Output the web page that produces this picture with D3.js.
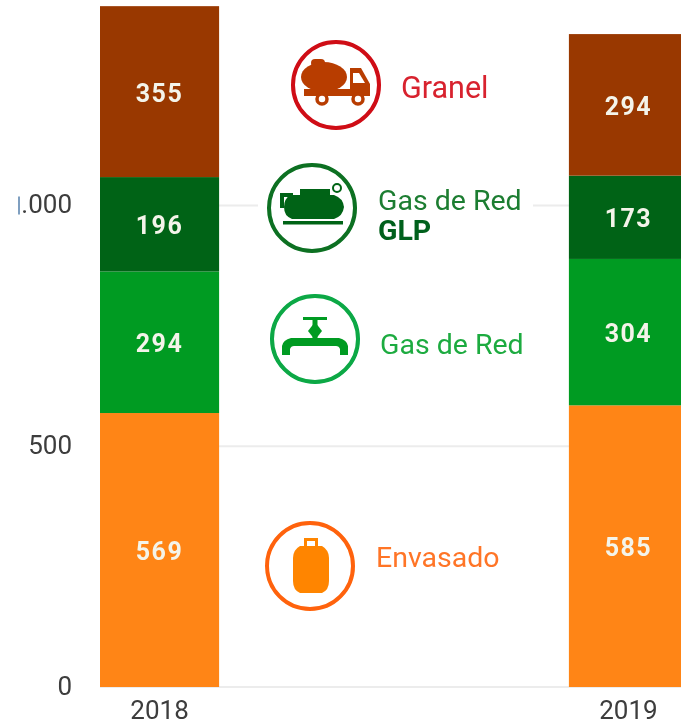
<!DOCTYPE html>
<html>
<head>
<meta charset="utf-8">
<script src="https://cdn.jsdelivr.net/npm/d3@7"></script>
<style>
    html, body { margin: 0; padding: 0; background: #fff; overflow: hidden; }
    text { font-family: "Roboto", sans-serif; }
</style>
</head>
<body>
<div id="chart"></div>
<script>
"use strict";

const years = ["2018", "2019"];
const seriesNames = ["Envasado", "Gas de Red", "Gas de Red GLP", "Granel"];
const envasado = [569, 585];
const gasDeRed = [294, 304];
const gasDeRedGlp = [196, 173];
const granel = [355, 294];
const yTicks = [0, 500, 1000];
const barColors = ["#ff8514", "#059b24", "#006414", "#993800"];

const width = 681;
const height = 727;

const rows = years.map((year, i) => ({
    year,
    "Envasado"      : envasado[i],
    "Gas de Red"    : gasDeRed[i],
    "Gas de Red GLP": gasDeRedGlp[i],
    "Granel"        : granel[i]
}));

const xScale = d3.scaleBand()
                 .domain(years)
                 .range([100, 688])
                 .paddingInner(0.746)
                 .paddingOuter(0);
const yScale = d3.scaleLinear()
                 .domain([0, 1000])
                 .range([687, 205.5]);
const colorScale = d3.scaleOrdinal().domain(seriesNames).range(barColors);
const stacked = d3.stack().keys(seriesNames)(rows);

const svg = d3.select("#chart").append("svg")
              .attr("width", width)
              .attr("height", height);

const defs = svg.append("defs");
defs.append("filter").attr("id", "soft")
    .attr("x", "-5%").attr("y", "-5%").attr("width", "110%").attr("height", "110%")
    .append("feGaussianBlur").attr("stdDeviation", 0.75);
// the "1" of 1.000 is cut by the left edge of the crop in the original
defs.append("clipPath").attr("id", "tick-clip")
    .append("rect").attr("x", -54).attr("y", 0).attr("width", 60).attr("height", height);

const root = svg.append("g").attr("filter", "url(#soft)");

// gridlines
root.append("g").selectAll("line").data(yTicks).enter()
    .append("line")
    .attr("x1", 100).attr("x2", width)
    .attr("y1", d => yScale(d)).attr("y2", d => yScale(d))
    .attr("stroke", "#ececec")
    .attr("stroke-width", 2);

// bars
const layers = root.append("g").selectAll("g").data(stacked).enter()
                   .append("g")
                   .attr("fill", d => colorScale(d.key));
layers.selectAll("rect").data(d => d).enter()
      .append("rect")
      .attr("x", d => xScale(d.data.year))
      .attr("width", xScale.bandwidth())
      .attr("y", d => yScale(d[1]))
      .attr("height", d => yScale(d[0]) - yScale(d[1]));
layers.selectAll("text").data(d => d).enter()
      .append("text")
      .text(d => d[1] - d[0])
      .attr("x", d => xScale(d.data.year) + xScale.bandwidth() / 2)
      .attr("y", d => (yScale(d[0]) + yScale(d[1])) / 2 + 10)
      .attr("text-anchor", "middle")
      .attr("fill", "#f4f4ea")
      .style("font-size", "25px")
      .style("font-weight", 700)
      .style("letter-spacing", "1.5px");

// axes
const yAxis = d3.axisLeft(yScale)
                .tickValues(yTicks)
                .tickSize(0)
                .tickPadding(0)
                .tickFormat(d => d3.format(",")(d).replace(",", "."));
// the stem of the cut "1" is only a sliver, drawn apart so it sits against the dot
root.append("rect")
    .attr("x", 18).attr("y", yScale(1000) - 9).attr("width", 2).attr("height", 18)
    .attr("fill", "#7f9fc0");
root.append("g")
    .attr("transform", "translate(72, -1)")
    .attr("clip-path", "url(#tick-clip)")
    .call(yAxis)
    .call(g => g.select(".domain").remove())
    .call(g => g.selectAll("text")
                .attr("fill", "#3c3c3c")
                .style("font-family", "Roboto, sans-serif")
                .style("font-size", "26px"));
const xAxis = d3.axisBottom(xScale).tickSize(0).tickPadding(0);
root.append("g")
    .attr("transform", "translate(0, 701)")
    .call(xAxis)
    .call(g => g.select(".domain").remove())
    .call(g => g.selectAll("text")
                .attr("fill", "#3c3c3c")
                .style("font-family", "Roboto, sans-serif")
                .style("font-size", "26px"));

// legend panel hides the gridlines behind it
root.append("rect")
    .attr("x", 258).attr("y", 0).attr("width", 275).attr("height", 250)
    .attr("fill", "#fff");

const legend = root.append("g");
const badge = (cx, cy, color) => legend.append("circle")
    .attr("cx", cx).attr("cy", cy).attr("r", 43)
    .attr("fill", "#fff").attr("stroke", color).attr("stroke-width", 4);
const label = (x, y, text, color, size, weight) => legend.append("text")
    .attr("x", x).attr("y", y).text(text)
    .attr("fill", color)
    .style("font-size", size + "px")
    .style("font-weight", weight || 400);

// Granel, truck
badge(336, 85, "#cf0a14");
const truck = legend.append("g").attr("fill", "#b83c06");
truck.append("ellipse").attr("cx", 324).attr("cy", 77).attr("rx", 23).attr("ry", 15);
truck.append("rect").attr("x", 311).attr("y", 59).attr("width", 14).attr("height", 8).attr("rx", 4);
truck.append("path").attr("d", "M304 89H350V68H361L370 84V96H304Z");
truck.append("path").attr("d", "M353 73H359L365 83H353Z").attr("fill", "#fff");
truck.append("circle").attr("cx", 322).attr("cy", 99).attr("r", 5).attr("fill", "#fff").attr("stroke", "#b83c06").attr("stroke-width", 3.5);
truck.append("circle").attr("cx", 358).attr("cy", 99).attr("r", 5).attr("fill", "#fff").attr("stroke", "#b83c06").attr("stroke-width", 3.5);
label(401, 98, "Granel", "#d8232f", 30.5);

// Gas de Red GLP, tank
badge(312, 208, "#0a7020");
const tank = legend.append("g").attr("fill", "#006414");
tank.append("path").attr("d", "M290 195H334Q343 198 344 207Q343 216 334 219H292Q284 216 284 207Q284 199 290 195Z");
tank.append("rect").attr("x", 300).attr("y", 189).attr("width", 30).attr("height", 7);
tank.append("path").attr("d", "M280 193H293V197H284V208H280Z");
tank.append("rect").attr("x", 283).attr("y", 221).attr("width", 60).attr("height", 3.5);
tank.append("circle").attr("cx", 337).attr("cy", 188).attr("r", 4).attr("fill", "#fff").attr("stroke", "#006414").attr("stroke-width", 2);
label(378, 210, "Gas de Red", "#1d7d30", 28.5);
label(378, 240, "GLP", "#00601a", 28.5, 700);

// Gas de Red, tap
badge(315, 339, "#07a844");
const tap = legend.append("g").attr("fill", "#059b24");
tap.append("path").attr("d", "M282 355V346Q283 340 291 338H339Q347 340 348 346V355H340V349Q339 346 336 346H294Q291 346 290 349V355Z");
tap.append("rect").attr("x", 312.5).attr("y", 318).attr("width", 5).attr("height", 24);
tap.append("rect").attr("x", 303).attr("y", 317).attr("width", 24).attr("height", 3);
tap.append("path").attr("d", "M315 322L322 331L315 340L308 331Z");
label(380, 354, "Gas de Red", "#1fab40", 28.5);

// Envasado, bottle
badge(310, 566, "#ff6208");
const bottle = legend.append("g").attr("fill", "#ff8500");
bottle.append("path").attr("d", "M304 547V538H318V547H315V541H307V547Z");
bottle.append("path").attr("d", "M300 546H322Q329 550 329 558V581Q329 590 322 593H300Q293 590 293 581V558Q293 550 300 546Z");
label(376, 567, "Envasado", "#ff7426", 28.5);
</script>
</body>
</html>
